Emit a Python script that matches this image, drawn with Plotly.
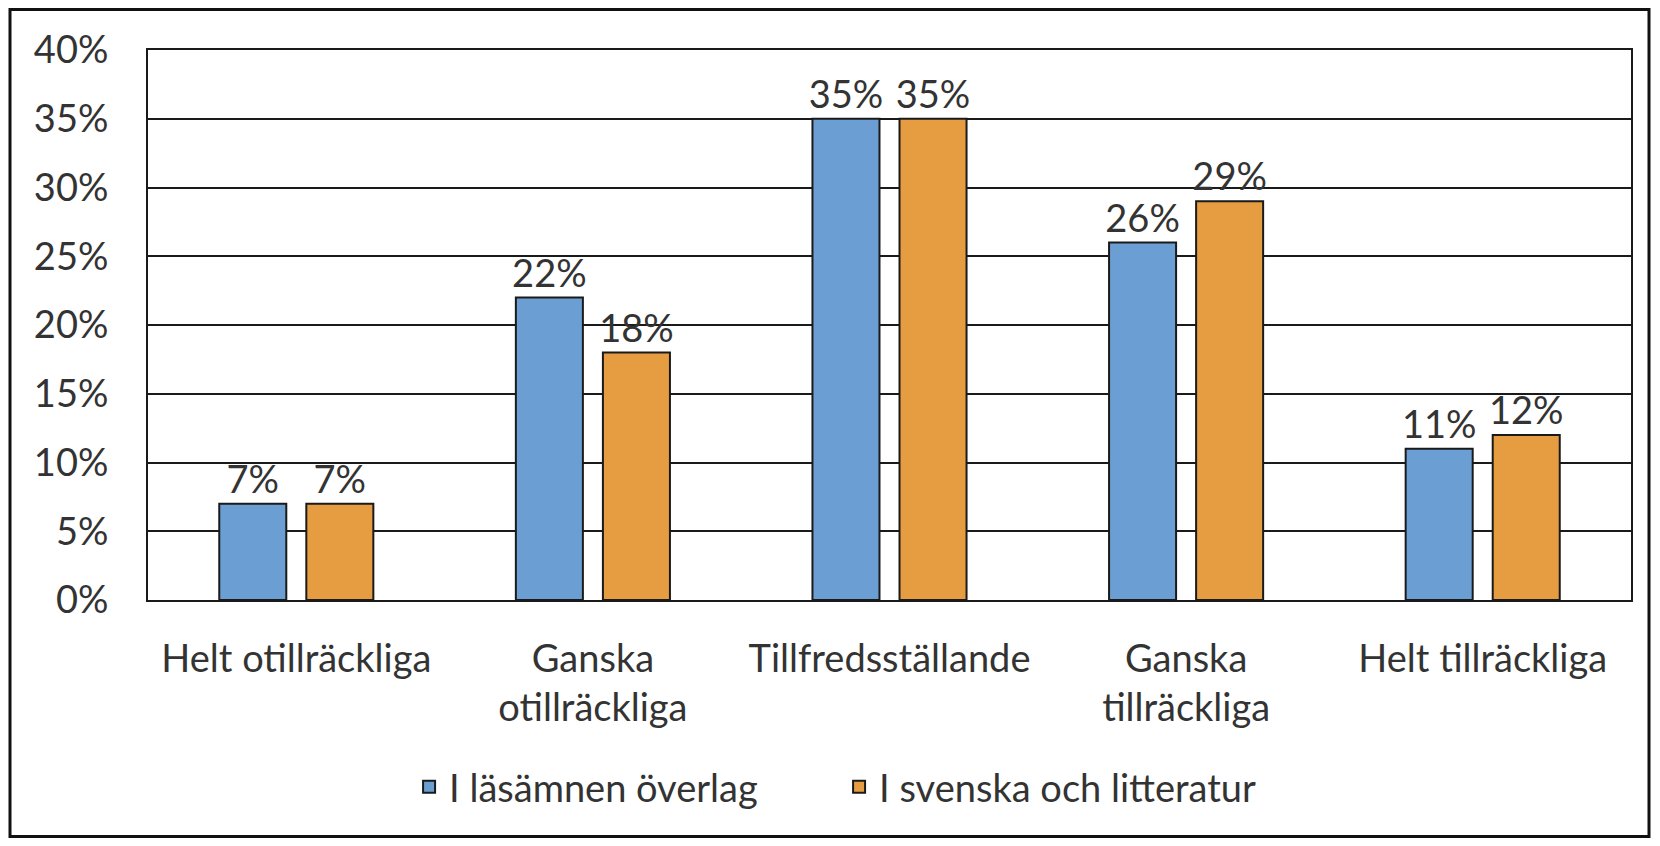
import plotly.graph_objects as go

categories = [
    "Helt otillräckliga",
    "Ganska<br>otillräckliga",
    "Tillfredsställande",
    "Ganska<br>tillräckliga",
    "Helt tillräckliga",
]
series_names = ["I läsämnen överlag", "I svenska och litteratur"]
overall = [7, 22, 35, 26, 11]
swedish = [7, 18, 35, 29, 12]
y_ticks = [0, 5, 10, 15, 20, 25, 30, 35, 40]
y_tick_labels = [f"{v}%" for v in y_ticks]

# page has an 8px body margin, so the figure is kept a bit smaller than the window
W, H = 1644, 830
ML, MR, MT, MB = 140, 21, 42, 238
FONT = dict(family="Lato, 'Open Sans', sans-serif", size=38, color="#333333")

fig = go.Figure()
for name, vals, color in [
    (series_names[0], overall, "#6b9fd3"),
    (series_names[1], swedish, "#e69c40"),
]:
    fig.add_trace(
        go.Bar(
            name=name,
            x=categories,
            y=vals,
            marker=dict(color=color, line=dict(color="#1a1a1a", width=2)),
            text=[f"{v}%" for v in vals],
            texttemplate="%{text}",
            textposition="outside",
            constraintext="none",
            textfont=FONT,
            cliponaxis=False,
        )
    )

pw = W - ML - MR
ph = H - MT - MB
# outer frame around the whole chart
fig.add_shape(
    type="rect", xref="paper", yref="paper",
    x0=(2 - ML) / pw, x1=(1641 - ML) / pw,
    y0=-(828.5 - MT - ph) / ph, y1=1 + (MT - 1.5) / ph,
    line=dict(color="#111111", width=3), layer="below",
)

fig.update_layout(
    width=W, height=H,
    margin=dict(l=ML, r=MR, t=MT, b=MB, autoexpand=False),
    paper_bgcolor="white", plot_bgcolor="white",
    font=FONT,
    barmode="group", bargap=0.413, bargroupgap=0.23,
    showlegend=True,
    legend=dict(
        orientation="h", x=0.466, xanchor="center", y=-0.34, yanchor="middle",
        font=FONT, itemclick=False, traceorder="normal",
        entrywidth=385, entrywidthmode="pixels",
    ),
    xaxis=dict(
        showline=True, linecolor="#1a1a1a", linewidth=2, mirror=True,
        ticks="", ticklabelstandoff=24, automargin=False,
    ),
    yaxis=dict(
        range=[0, 40], tickvals=y_ticks, ticktext=y_tick_labels,
        showgrid=True, gridcolor="#1a1a1a", gridwidth=2,
        showline=True, linecolor="#1a1a1a", linewidth=2, mirror=True,
        ticks="", ticklabelstandoff=30, zeroline=False, automargin=False,
    ),
)

fig.write_html("out.html")
